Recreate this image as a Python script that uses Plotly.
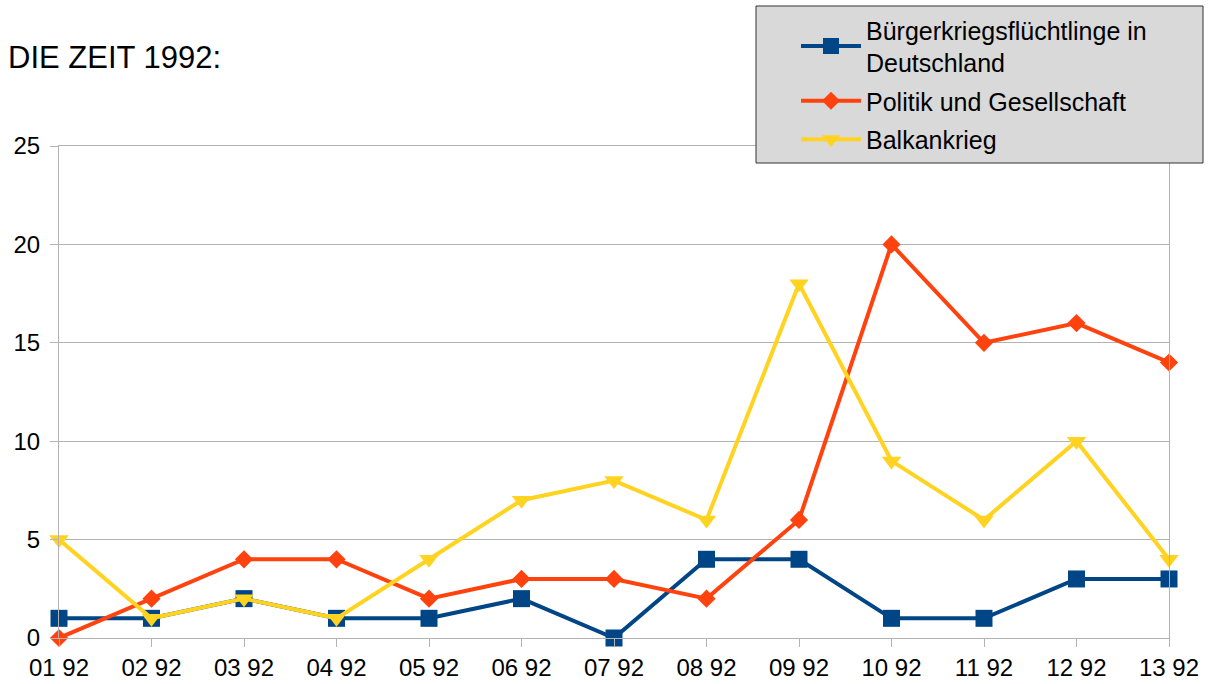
import plotly.graph_objects as go

categories = ["01 92", "02 92", "03 92", "04 92", "05 92", "06 92", "07 92",
              "08 92", "09 92", "10 92", "11 92", "12 92", "13 92"]
fluechtlinge = [1, 1, 2, 1, 1, 2, 0, 4, 4, 1, 1, 3, 3]
politik = [0, 2, 4, 4, 2, 3, 3, 2, 6, 20, 15, 16, 14]
balkan = [5, 1, 2, 1, 4, 7, 8, 6, 18, 9, 6, 10, 4]
y_ticks = [0, 5, 10, 15, 20, 25]

FONT = "Liberation Sans, Arial, sans-serif"

fig = go.Figure()
fig.add_trace(go.Scatter(x=categories, y=fluechtlinge, mode="lines+markers",
                         name="Bürgerkriegsflüchtlinge in<br>Deutschland",
                         legendgroup="a",
                         line=dict(color="#004586", width=4),
                         marker=dict(symbol="square", size=17, color="#004586"),
                         cliponaxis=False))
fig.add_trace(go.Scatter(x=categories, y=politik, mode="lines+markers",
                         name="Politik und Gesellschaft",
                         legendgroup="b",
                         line=dict(color="#ff420e", width=4),
                         marker=dict(symbol="diamond", size=14, color="#ff420e"),
                         cliponaxis=False))
fig.add_trace(go.Scatter(x=categories, y=balkan, mode="lines+markers",
                         name="Balkankrieg",
                         legendgroup="c",
                         line=dict(color="#ffd320", width=4),
                         marker=dict(symbol="triangle-down", size=17, color="#ffd320"),
                         cliponaxis=False))

L, R, T, B = 59, 40, 146, 46
W, H = 1209, 684
pw, ph = W - L - R, H - T - B

def px(x):
    return (x - L) / pw

def py(y):
    return (H - B - y) / ph

fig.add_shape(type="rect", xref="paper", yref="paper",
              x0=px(756), x1=px(1203), y0=py(163), y1=py(6),
              fillcolor="#d9d9d9", line=dict(color="#333333", width=1), layer="above")

fig.add_annotation(text="DIE ZEIT 1992:", xref="paper", yref="paper",
                   x=px(6), y=py(58), xanchor="left", yanchor="middle",
                   showarrow=False, font=dict(family=FONT, size=31, color="#000000"))

fig.update_layout(
    width=W, height=H,
    margin=dict(l=L, r=R, t=T, b=B, pad=0, autoexpand=False),
    paper_bgcolor="white", plot_bgcolor="white",
    font=dict(family=FONT, size=24, color="#000000"),
    legend=dict(x=px(796), y=py(7), xanchor="left", yanchor="top",
                bgcolor="rgba(0,0,0,0)", borderwidth=0,
                font=dict(family=FONT, size=25, color="#000000"),
                itemwidth=60, tracegroupgap=3),
    showlegend=True,
)
fig.update_xaxes(type="category", range=[0, 12], showgrid=False, automargin=False,
                 showline=True, linecolor="#b3b3b3", linewidth=1, mirror=True,
                 ticks="outside", ticklen=8, tickcolor="#b3b3b3",
                 tickfont=dict(family=FONT, size=24, color="#000000"),
                 zeroline=False)
fig.update_yaxes(range=[0, 25], tickvals=y_ticks, showgrid=True, automargin=False,
                 gridcolor="#b3b3b3", gridwidth=1,
                 showline=True, linecolor="#b3b3b3", linewidth=1, mirror=True,
                 ticks="outside", ticklen=8, tickcolor="#b3b3b3",
                 ticklabelstandoff=5,
                 tickfont=dict(family=FONT, size=24, color="#000000"),
                 zeroline=False)

fig.write_html("out.html")
